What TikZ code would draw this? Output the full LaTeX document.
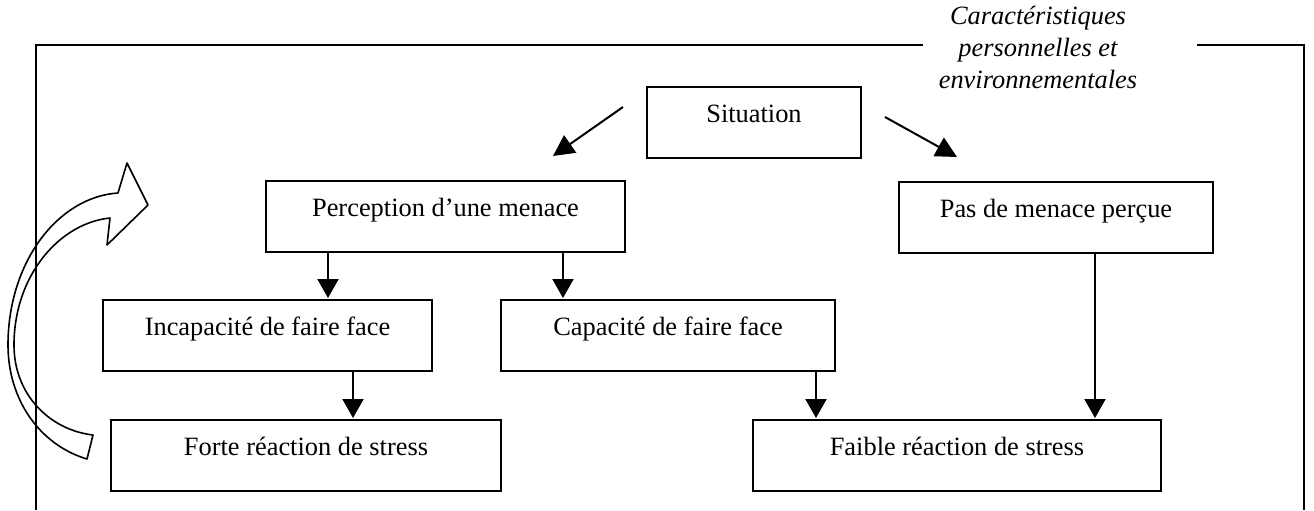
\documentclass[tikz,border=0pt]{standalone}
\usepackage{fontspec}
\setmainfont{Liberation Serif}
\usetikzlibrary{arrows.meta}
\begin{document}
\begin{tikzpicture}[x=0.5pt,y=-0.5pt,
  box/.style={draw, line width=1pt, inner sep=0pt, text height=17.5pt, text depth=18pt,
    font=\fontsize{13.2pt}{15.5pt}\selectfont},
  arr/.style={line width=1pt, -{Triangle[length=9.5pt,width=10.5pt]}, shorten >=0.5pt},
  darr/.style={line width=1pt, -{Triangle[length=10.5pt,width=10.5pt]}},
  frame/.style={line width=1.25pt},
  loop/.style={line width=0.8pt, line join=round}]
\useasboundingbox (0,0) rectangle (1314,510);

% frame
\coordinate (f1) at (923,45);
\coordinate (f2) at (36,45);
\coordinate (f3) at (36,510);
\coordinate (g1) at (1197,45);
\coordinate (g2) at (1304,45);
\coordinate (g3) at (1304,510);
\draw[frame] (f1) -- (f2) -- (f3);
\draw[frame] (g1) -- (g2) -- (g3);

\node[align=center, anchor=base, font=\itshape\fontsize{13.2pt}{16pt}\selectfont] (car) at (1038,88)
  {Caractéristiques\\personnelles et\\environnementales};

% boxes
\node[box, minimum width=107pt] (sit) at (754,122.5) {Situation};
\node[box, minimum width=179.5pt] (perc) at (445.5,216.5) {Perception d’une menace};
\node[box, minimum width=157pt] (pas) at (1056,217.5) {Pas de menace perçue};
\node[box, minimum width=164.5pt] (inc) at (267.5,335.5) {Incapacité de faire face};
\node[box, minimum width=167pt] (cap) at (668,335.5) {Capacité de faire face};
\node[box, minimum width=195pt] (forte) at (306,455.5) {Forte réaction de stress};
\node[box, minimum width=204pt] (faible) at (957,455.5) {Faible réaction de stress};

% connectors
\coordinate (sl1) at (623,107);
\coordinate (sl2) at (553,156);
\coordinate (sr1) at (885,117);
\coordinate (sr2) at (957,157);
\draw[darr] (sl1) -- (sl2);
\draw[darr] (sr1) -- (sr2);

\coordinate (x1) at (328,0);
\coordinate (x2) at (563,0);
\coordinate (x3) at (353,0);
\coordinate (x4) at (816,0);
\coordinate (x5) at (1095,0);
\draw[arr] (perc.south -| x1) -- (inc.north -| x1);
\draw[arr] (perc.south -| x2) -- (cap.north -| x2);
\draw[arr] (inc.south -| x3) -- (forte.north -| x3);
\draw[arr] (cap.south -| x4) -- (faible.north -| x4);
\draw[arr] (pas.south -| x5) -- (faible.north -| x5);

% curved block arrow
\draw[loop] (87,459) .. controls (40,445) and (8,400) .. (8,345)
  .. controls (8,262) and (58,197) .. (118,193)
  -- (127,163) -- (148,205) -- (107,245) -- (110,218)
  .. controls (60,223) and (14,275) .. (14,345)
  .. controls (14,395) and (50,430) .. (93,435) -- cycle;
\end{tikzpicture}
\end{document}
